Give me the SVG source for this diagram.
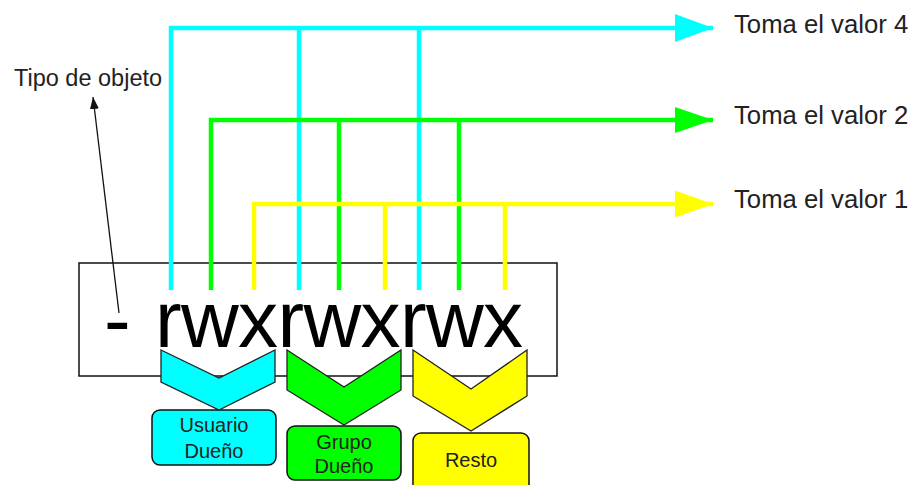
<svg xmlns="http://www.w3.org/2000/svg" width="916" height="485" viewBox="0 0 916 485">
  <defs>
    <style>
      .txt { font-family: "Liberation Sans", Arial, sans-serif; fill: #222; }
      .big { font-family: "Liberation Sans", Arial, sans-serif; font-size: 80px; fill: #000; }
      .lbl { font-size: 20px; text-anchor: middle; }
      .take { font-size: 25.7px; }
      .wire { fill: none; stroke-width: 4.5; stroke-linejoin: miter; }
      .cyan { stroke: #00ffff; }
      .green { stroke: #00ff00; }
      .yellow { stroke: #ffff00; }
      .chev { stroke: #222; stroke-width: 1.3; stroke-linejoin: miter; }
      .box { stroke: #111; stroke-width: 1.5; }
    </style>
    <marker id="headCyan" markerUnits="userSpaceOnUse" markerWidth="40" markerHeight="30" refX="38" refY="15" orient="auto">
      <path d="M0,1 L38,15 L0,29 z" fill="#00ffff"/>
    </marker>
    <marker id="headGreen" markerUnits="userSpaceOnUse" markerWidth="40" markerHeight="30" refX="38" refY="15" orient="auto">
      <path d="M0,2 L38,15 L0,28 z" fill="#00ff00"/>
    </marker>
    <marker id="headYellow" markerUnits="userSpaceOnUse" markerWidth="40" markerHeight="30" refX="38" refY="15" orient="auto">
      <path d="M0,1.5 L38,15 L0,28.5 z" fill="#ffff00"/>
    </marker>
    <marker id="headBlack" markerUnits="userSpaceOnUse" markerWidth="12" markerHeight="10" refX="12" refY="5" orient="auto">
      <path d="M0,0.5 L12,5 L0,9.5 z" fill="#111"/>
    </marker>
  </defs>

  <!-- permission string frame -->
  <g id="perm-string">
    <rect x="79" y="263" width="478" height="113" fill="#fff" stroke="#111" stroke-width="1.5"/>
    <text class="big" x="104" y="347">-</text>
    <text class="big" x="155" y="347" textLength="368" lengthAdjust="spacing">rwxrwxrwx</text>
  </g>

  <!-- bit-value wires -->
  <g id="connectors">
    <path class="wire cyan" d="M171,290 V28 H713" marker-end="url(#headCyan)"/>
    <path class="wire cyan" d="M299,290 V28"/>
    <path class="wire cyan" d="M419,290 V28"/>

    <path class="wire green" d="M211,290 V120 H713" marker-end="url(#headGreen)"/>
    <path class="wire green" d="M339,290 V120"/>
    <path class="wire green" d="M459,290 V120"/>

    <path class="wire yellow" d="M254,290 V204 H713" marker-end="url(#headYellow)"/>
    <path class="wire yellow" d="M385,290 V204"/>
    <path class="wire yellow" d="M505,290 V204"/>

    <line x1="119" y1="313" x2="93" y2="97" stroke="#111" stroke-width="1.3" marker-end="url(#headBlack)"/>
  </g>

  <!-- group chevrons -->
  <g id="chevron-owner">
    <polygon class="chev" fill="#00ffff" points="161,350 219,378 275,350 275,382 219,410 161,382"/>
  </g>
  <g id="chevron-group">
    <polygon class="chev" fill="#00ff00" points="287,350 344,387 401,350 401,390 344,425 287,390"/>
  </g>
  <g id="chevron-other">
    <polygon class="chev" fill="#ffff00" points="413,350 471,389 527,350 527,396 471,431 413,396"/>
  </g>

  <!-- group labels -->
  <g id="label-owner">
    <rect class="box" x="152" y="410" width="124" height="55" rx="8" fill="#00ffff"/>
    <text class="txt lbl" x="214" y="432">Usuario</text>
    <text class="txt lbl" x="214" y="458">Dueño</text>
  </g>
  <g id="label-group">
    <rect class="box" x="287" y="426" width="114" height="54" rx="8" fill="#00ff00"/>
    <text class="txt lbl" x="344" y="449">Grupo</text>
    <text class="txt lbl" x="344" y="473">Dueño</text>
  </g>
  <g id="label-other">
    <rect class="box" x="413" y="433" width="116" height="60" rx="8" fill="#ffff00"/>
    <text class="txt lbl" x="471" y="467">Resto</text>
  </g>

  <!-- captions -->
  <g id="caption-type">
    <text class="txt" x="14" y="86" font-size="23.5">Tipo de objeto</text>
  </g>
  <g id="caption-4">
    <text class="txt take" x="734" y="33">Toma el valor 4</text>
  </g>
  <g id="caption-2">
    <text class="txt take" x="734" y="124">Toma el valor 2</text>
  </g>
  <g id="caption-1">
    <text class="txt take" x="734" y="208">Toma el valor 1</text>
  </g>
</svg>
